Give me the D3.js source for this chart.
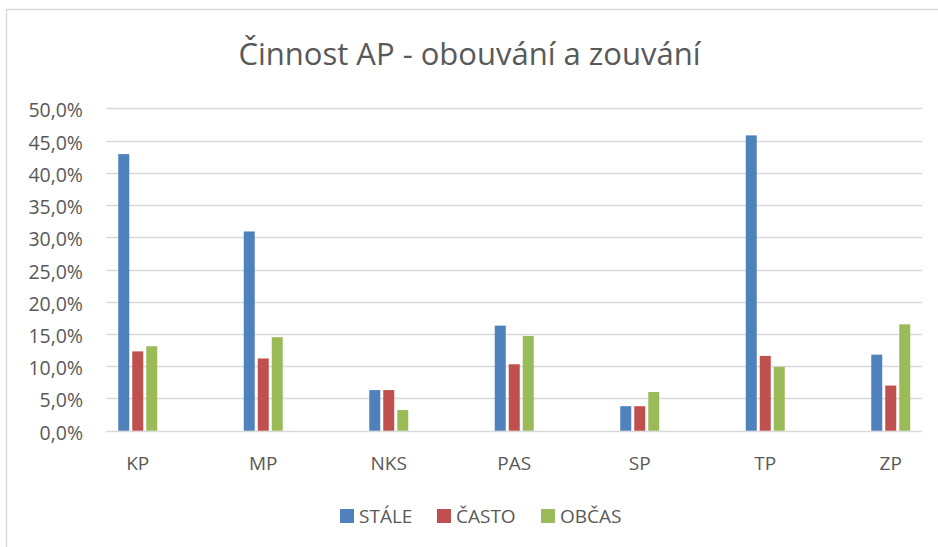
<!DOCTYPE html>
<html>
<head>
<meta charset="utf-8">
<script src="https://cdn.jsdelivr.net/npm/d3@7"></script>
<style>
  body { margin: 0; background: #fff; }
  text { font-family: "Open Sans", "Noto Sans", sans-serif; fill: #595959; }
</style>
</head>
<body>
<div id="chart"></div>
<script>
const title = 'Činnost AP - obouvání a zouvání'
const categories = ['KP', 'MP', 'NKS', 'PAS', 'SP', 'TP', 'ZP']
const seriesNames = ['STÁLE', 'ČASTO', 'OBČAS']
const stale = [42.9, 30.9, 6.3, 16.3, 3.8, 45.8, 11.8]
const casto = [12.3, 11.2, 6.3, 10.3, 3.8, 11.6, 7.0]
const obcas = [13.1, 14.5, 3.2, 14.7, 6.0, 9.9, 16.5]
const yTicks = [0, 5, 10, 15, 20, 25, 30, 35, 40, 45, 50]
const colors = ['#4F81BD', '#C0504D', '#9BBB59']

const W = 938, H = 547
const values = [stale, casto, obcas]

const svg = d3.select('#chart').append('svg')
  .attr('width', W)
  .attr('height', H)

// chart border (runs off the right and bottom edges)
svg.append('rect')
  .attr('x', 6.5).attr('y', 9.5)
  .attr('width', W + 20).attr('height', H + 20)
  .attr('fill', '#fff')
  .attr('stroke', '#d9d9d9')
  .attr('stroke-width', 1.5)

const gridLeft = 106, gridRight = 922

const y = d3.scaleLinear()
  .domain([0, 50])
  .range([430.7, 108.3])

const x = d3.scaleBand()
  .domain(categories)
  .range([75, 953.5])

const x1 = d3.scaleBand()
  .domain(seriesNames)
  .range([-19.5, 19.5])
  .paddingInner(3 / 14)

// gridlines
svg.append('g')
  .selectAll('line')
  .data(yTicks)
  .join('line')
  .attr('x1', gridLeft)
  .attr('x2', gridRight)
  .attr('y1', d => Math.round(y(d)) + 0.5)
  .attr('y2', d => Math.round(y(d)) + 0.5)
  .attr('stroke', '#d9d9d9')
  .attr('stroke-width', 1.5)

// y labels
svg.append('g')
  .selectAll('text')
  .data(yTicks)
  .join('text')
  .attr('x', 83)
  .attr('y', d => y(d) + 9)
  .attr('text-anchor', 'end')
  .style('font-size', '19.5px')
  .text(d => d3.format('.1f')(d).replace('.', ',') + '%')

// bars
const groups = svg.append('g')
  .selectAll('g')
  .data(categories)
  .join('g')
  .attr('transform', d => `translate(${x(d) + x.bandwidth() / 2},0)`)

groups.selectAll('rect')
  .data((c, i) => seriesNames.map((s, j) => ({ s, j, v: values[j][i] })))
  .join('rect')
  .attr('x', d => x1(d.s))
  .attr('width', x1.bandwidth())
  .attr('y', d => y(d.v))
  .attr('height', d => y(0) - y(d.v))
  .attr('fill', d => colors[d.j])

// category labels
svg.append('g')
  .selectAll('text')
  .data(categories)
  .join('text')
  .attr('x', d => x(d) + x.bandwidth() / 2)
  .attr('y', 470)
  .attr('text-anchor', 'middle')
  .style('font-size', '19px')
  .text(d => d)

// title
svg.append('text')
  .attr('x', 469.5)
  .attr('y', 65)
  .attr('text-anchor', 'middle')
  .style('font-size', '31px')
  .text(title)

// legend
const legendX = [340, 437, 541]
const legend = svg.append('g')
  .selectAll('g')
  .data(seriesNames)
  .join('g')
  .attr('transform', (d, i) => `translate(${legendX[i]},523)`)

legend.append('rect')
  .attr('x', 0).attr('y', -14)
  .attr('width', 14).attr('height', 14)
  .attr('fill', (d, i) => colors[i])

legend.append('text')
  .attr('x', 19)
  .style('font-size', '19px')
  .text(d => d)
</script>
</body>
</html>
